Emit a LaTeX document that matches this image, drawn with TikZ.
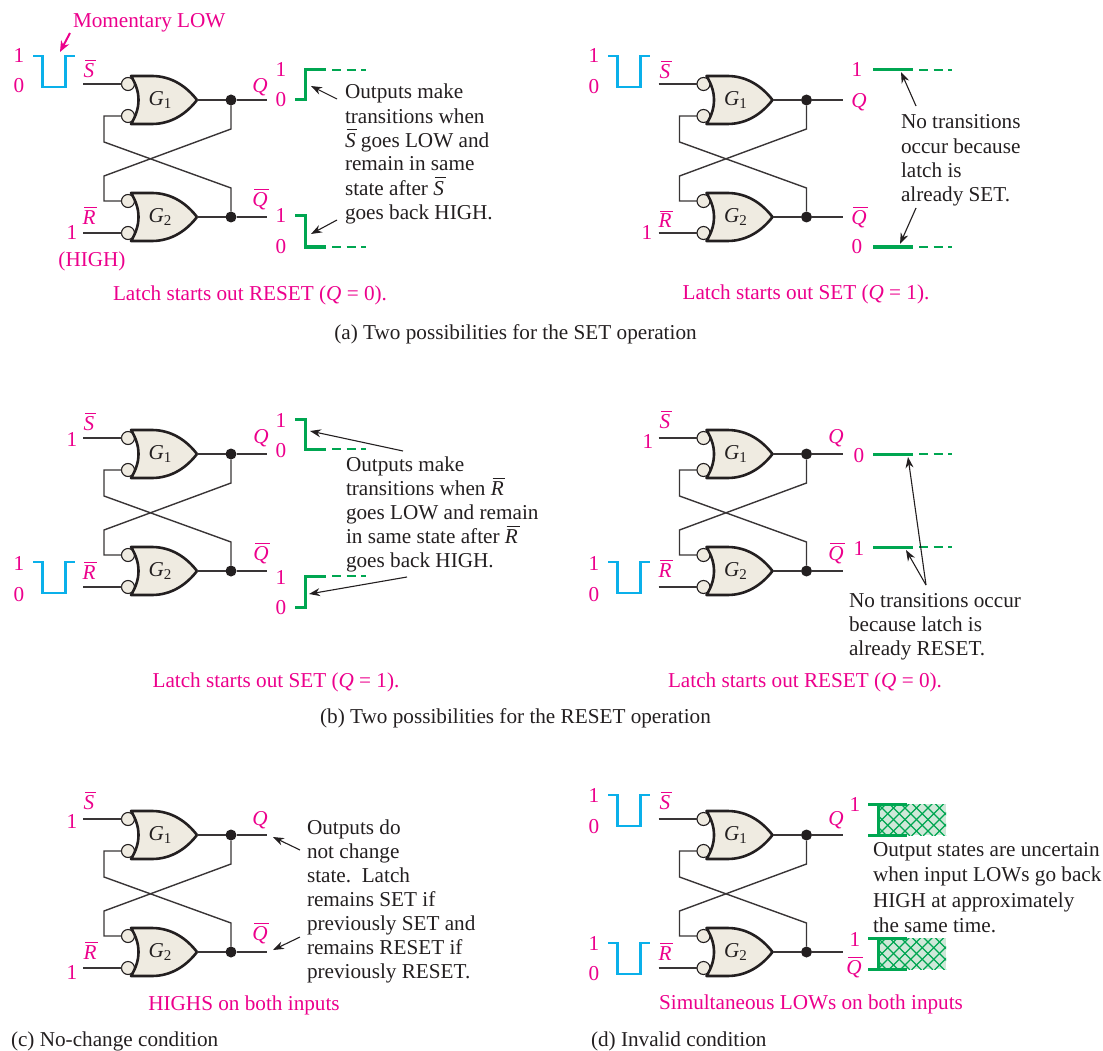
\documentclass[tikz,border=0pt]{standalone}
\usepackage{fontspec}
\setmainfont{Liberation Serif}
\usetikzlibrary{arrows.meta}
\definecolor{mag}{HTML}{EC008C}
\definecolor{blu}{HTML}{0AB0EA}
\definecolor{grn}{HTML}{00A651}
\definecolor{ink}{HTML}{231F20}
\definecolor{gatefill}{HTML}{EFEBE1}
\definecolor{hatchbg}{HTML}{CFE8D8}
\newcommand\ob[1]{\leavevmode\setbox0=\hbox{\textit{#1}}\hbox{\rlap{\kern0.08em\raisebox{16.5pt}{\rule{\wd0}{1pt}}}\box0}}
\newcommand\Gsub[1]{\textit{G}\raisebox{-3.5pt}{\fontsize{15}{15}\selectfont #1}}
\newcounter{tn}
\tikzset{
  every node/.style={inner sep=0pt,outer sep=0pt,font=\fontsize{21.2}{24}\selectfont,text=ink},
  wire/.style={draw=ink!90,line width=1.4pt},
  gateline/.style={draw=ink,line width=2.6pt,fill=gatefill,line join=round},
  bub/.style={circle,draw=ink,line width=1.1pt,fill=gatefill,minimum size=13pt},
  jdot/.style={circle,fill=ink,minimum size=11pt},
  pulseline/.style={draw=blu,line width=2.8pt,miter limit=10},
  greentrace/.style={draw=grn,line width=3pt},
  dashline/.style={draw=grn,line width=1.1pt,dash pattern=on 9pt off 5.5pt},
  note/.style={-{Stealth[length=11pt,width=8pt]},draw=ink,line width=1.1pt},
  magnote/.style={-{Stealth[length=11pt,width=9pt]},draw=mag,line width=2pt},
}
% text whose glyph centre is at (x,y)
\newcommand\tx[4][ink]{\stepcounter{tn}\node[anchor=base,text=#1] (t\thetn) at (#2,#3+7) {#4};}
\newcommand\txl[4][ink]{\stepcounter{tn}\node[anchor=base west,text=#1] (t\thetn) at (#2,#3+7) {#4};}
\newcommand\mg[3]{\tx[mag]{#1}{#2}{#3}}
% paragraph: left x, first-line centre y, baselineskip, lines
\newcommand\parablk[4]{\stepcounter{tn}\node[anchor=north west,align=left,font=\fontsize{21.2}{#3}\selectfont] (t\thetn) at (#1,#2-9) {\rule{0pt}{16pt}#4};}
\newcommand\arr[3]{\stepcounter{tn}\coordinate (n\thetn a) at (#1); \coordinate (n\thetn b) at (#2); \draw[#3] (n\thetn a) -- (n\thetn b);}
% latch: prefix dx dy
\newcommand\gate[2]{% prefix, yoffset
  \path[gateline] (131,#2+76) -- (152,#2+76) .. controls (172,#2+76) and (187,#2+87) .. (197,#2+100)
     .. controls (187,#2+113) and (172,#2+124) .. (152,#2+124) -- (131,#2+124)
     .. controls (141,#2+108) and (141,#2+92) .. cycle;
  \coordinate (#1out) at (197,#2+100);
}
\newcommand\latch[3]{%
\begin{scope}[shift={(#2,#3)}]
  \coordinate (#1sin) at (83,84); \coordinate (#1rin) at (83,233);
  \coordinate (#1qe) at (267,100); \coordinate (#1nqe) at (267,217);
  \coordinate (#1a) at (231,129); \coordinate (#1b) at (104,176); \coordinate (#1c) at (104,201);
  \coordinate (#1d) at (231,188); \coordinate (#1e) at (104,142); \coordinate (#1f) at (104,116);
  \node[bub] (#1b1) at (128,84) {}; \node[bub] (#1b2) at (128,116) {};
  \node[bub] (#1b3) at (128,201) {}; \node[bub] (#1b4) at (128,233) {};
  \gate{#1u}{0} \gate{#1l}{117}
  \node[jdot] (#1j1) at (231,100) {}; \node[jdot] (#1j2) at (231,217) {};
  \draw[wire] (#1sin) -- (#1b1.west);
  \draw[wire] (#1rin) -- (#1b4.west);
  \draw[wire] (#1uout) -- (#1j1) -- (#1qe);
  \draw[wire] (#1lout) -- (#1j2) -- (#1nqe);
  \draw[wire] (#1j1) -- (#1a) -- (#1b) -- (#1c) -- (#1b3.west);
  \draw[wire] (#1j2) -- (#1d) -- (#1e) -- (#1f) -- (#1b2.west);
  \node (#1g1) at (160,100) {\Gsub{1}};
  \node (#1g2) at (160,217) {\Gsub{2}};
\end{scope}}
% pulse: left x base, top y
\newcommand\pulse[2]{\stepcounter{tn}
  \coordinate (p\thetn a) at (#1,#2); \coordinate (p\thetn b) at (#1+9.5,#2); \coordinate (p\thetn c) at (#1+9.5,#2+31);
  \coordinate (p\thetn d) at (#1+32.5,#2+31); \coordinate (p\thetn e) at (#1+32.5,#2); \coordinate (p\thetn f) at (#1+41.5,#2);
  \draw[pulseline] (p\thetn a) -- (p\thetn b) -- (p\thetn c) -- (p\thetn d) -- (p\thetn e) -- (p\thetn f);}
% green stepped trace: x0, y start, y end
\newcommand\steptrace[3]{\stepcounter{tn}
  \coordinate (s\thetn a) at (#1,#2); \coordinate (s\thetn b) at (#1+10,#2); \coordinate (s\thetn c) at (#1+10,#3);
  \coordinate (s\thetn d) at (#1+31,#3); \coordinate (s\thetn e) at (#1+71,#3);
  \draw[greentrace] (s\thetn a) -- (s\thetn b) -- (s\thetn c) -- (s\thetn d);
  \draw[dashline] (s\thetn d) ++(6,0) -- (s\thetn e);}
\newcommand\flatline[2]{\stepcounter{tn}
  \coordinate (s\thetn a) at (#1,#2); \coordinate (s\thetn b) at (#1+40,#2); \coordinate (s\thetn c) at (#1+79,#2);
  \draw[greentrace] (s\thetn a) -- (s\thetn b);
  \draw[dashline] (s\thetn b) ++(6,0) -- (s\thetn c);}
\newcommand\hatchbox[1]{%
  \fill[hatchbg] (877,#1) rectangle (946,#1+31);
  \begin{scope}
    \clip (877,#1) rectangle (946,#1+31);
    \foreach \k in {-4,...,12} {
      \draw[grn,line width=1.3pt] (877+\k*11.5,#1-1) -- (877+\k*11.5+33,#1+32);
      \draw[grn,line width=1.3pt] (877+\k*11.5,#1+32) -- (877+\k*11.5+33,#1-1);
    }
  \end{scope}
  \draw[greentrace] (868,#1) -- (907,#1);
  \draw[greentrace] (868,#1+31) -- (907,#1+31);
  \draw[greentrace] (878,#1) -- (878,#1+31);
}
\begin{document}
\begin{tikzpicture}[x=1pt,y=-1pt]
\useasboundingbox (0,0) rectangle (1103,1051);
% ---------- latches
\latch{A}{0}{0}
\latch{B}{575.5}{0}
\latch{C}{0}{354}
\latch{D}{575.5}{354}
\latch{E}{0}{735}
\latch{F}{575.5}{735}
% ---------- (a) left
\txl[mag]{73}{21}{Momentary LOW}
\arr{70,33}{60,52}{magnote}
\mg{19}{56}{1}\mg{19}{86}{0}\pulse{33}{56}
\mg{89}{71}{\ob{S}}\mg{89}{218}{\ob{R}}\mg{72}{233}{1}\mg{92}{259}{(HIGH)}
\mg{260}{86}{\textit{Q}}\mg{260}{200}{\ob{Q}}
\mg{281}{70}{1}\mg{281}{100}{0}\mg{281}{216}{1}\mg{281}{247}{0}
\steptrace{295}{100}{70}\steptrace{295}{216}{247}
\arr{337,99}{311,86}{note}\arr{337,220}{311,234}{note}
\parablk{345}{92}{24pt}{Outputs make\\transitions when\\\ob{S} goes LOW and\\remain in same\\state after \ob{S}\\goes back HIGH.}
\mg{250}{293}{Latch starts out RESET (\textit{Q} = 0).}
\tx{515.5}{332}{(a) Two possibilities for the SET operation}
% ---------- (a) right
\mg{594}{56}{1}\mg{594}{87}{0}\pulse{608}{56}
\mg{665}{72}{\ob{S}}\mg{665}{221}{\ob{R}}\mg{647}{233}{1}
\mg{859}{101}{\textit{Q}}\mg{859}{218}{\ob{Q}}
\mg{857}{70}{1}\mg{857}{247}{0}
\flatline{873}{70}\flatline{873}{247}
\arr{916,106}{901,72}{note}\arr{916,208}{900,244}{note}
\parablk{901}{122}{24.3pt}{No transitions\\occur because\\latch is\\already SET.}
\mg{806}{292}{Latch starts out SET (\textit{Q} = 1).}
% ---------- (b) left
\mg{19}{563}{1}\mg{19}{594}{0}\pulse{33}{562}
\mg{89}{423}{\ob{S}}\mg{72}{439}{1}\mg{89}{572}{\ob{R}}
\mg{261}{436}{\textit{Q}}\mg{261}{553}{\ob{Q}}
\mg{281}{420}{1}\mg{281}{450}{0}\mg{281}{577}{1}\mg{281}{607}{0}
\steptrace{295}{419}{449}\steptrace{295}{607}{576}
\arr{403,451}{310,431}{note}\arr{407,577}{309,594}{note}
\parablk{346}{464}{24pt}{Outputs make\\transitions when \ob{R}\\goes LOW and remain\\in same state after \ob{R}\\goes back HIGH.}
\mg{276}{680}{Latch starts out SET (\textit{Q} = 1).}
\tx{515.5}{716}{(b) Two possibilities for the RESET operation}
% ---------- (b) right
\mg{594}{563}{1}\mg{594}{594}{0}\pulse{608}{562}
\mg{665}{421}{\ob{S}}\mg{648}{441}{1}\mg{665}{570}{\ob{R}}
\mg{836}{436}{\textit{Q}}\mg{836}{553}{\ob{Q}}
\mg{859}{455}{0}\mg{859}{548}{1}
\flatline{873}{454}\flatline{873}{547}
\arr{926,585}{908,457}{note}\arr{926,585}{906,550}{note}
\parablk{849}{600}{24pt}{No transitions occur\\because latch is\\already RESET.}
\mg{805}{680}{Latch starts out RESET (\textit{Q} = 0).}
% ---------- (c)
\mg{89}{802}{\ob{S}}\mg{72}{821}{1}\mg{90}{952}{\ob{R}}\mg{72}{972}{1}
\mg{260}{818}{\textit{Q}}\mg{260}{933}{\ob{Q}}
\arr{300,850}{273,837}{note}\arr{300,937}{273,950}{note}
\parablk{307}{827}{24pt}{Outputs do\\not change\\state.\ \ Latch\\remains SET if\\previously SET and\\remains RESET if\\previously RESET.}
\mg{244}{1003}{HIGHS on both inputs}
\txl{11}{1039}{(c) No-change condition}
% ---------- (d)
\mg{594}{795}{1}\mg{594}{826}{0}\pulse{608}{795}
\mg{594}{943}{1}\mg{594}{973}{0}\pulse{608}{943}
\mg{665}{802}{\ob{S}}\mg{665}{953}{\ob{R}}
\mg{836}{818}{\textit{Q}}\mg{854}{967}{\ob{Q}}
\mg{855}{804}{1}\mg{855}{939}{1}
\hatchbox{804}\hatchbox{938}
\parablk{873}{849}{25.5pt}{Output states are uncertain\\when input LOWs go back\\HIGH at approximately\\the same time.}
\mg{811}{1002}{Simultaneous LOWs on both inputs}
\txl{591}{1039}{(d) Invalid condition}
\end{tikzpicture}
\end{document}
